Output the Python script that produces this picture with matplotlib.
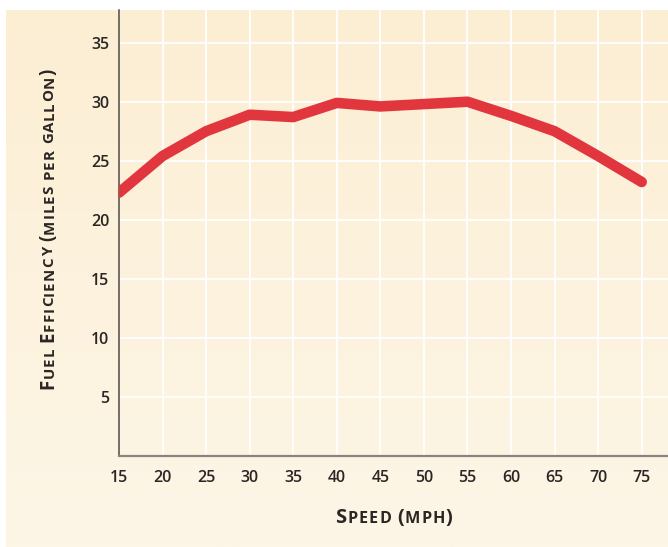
import numpy as np
import matplotlib
matplotlib.use("Agg")
import matplotlib.pyplot as plt
from matplotlib.transforms import IdentityTransform
from matplotlib.font_manager import FontProperties

# data
speed_mph = [15, 20, 25, 30, 35, 40, 45, 50, 55, 60, 65, 70, 75]
fuel_mpg = [22.3, 25.4, 27.5, 28.9, 28.7, 29.9, 29.6, 29.8, 30.0, 28.8, 27.5, 25.4, 23.2]
x_ticks = [15, 20, 25, 30, 35, 40, 45, 50, 55, 60, 65, 70, 75]
y_ticks = [5, 10, 15, 20, 25, 30, 35]
x_label = "Speed (mph)"
y_label = "Fuel Efficiency (miles per gallon)"

W, H = 668, 547
FONT = "Open Sans"
TEXT_COLOR = "#2b2623"

fig = plt.figure(figsize=(W / 100, H / 100), dpi=100)
fig.patch.set_facecolor("white")

# cream panel with a soft vertical gradient
bg = fig.add_axes([0, 0, 1, 1], zorder=0)
bg.set_axis_off()
top_c = np.array([252, 238, 211]) / 255
bot_c = np.array([253, 246, 231]) / 255
t = np.linspace(0, 1, 256)[:, None]
grad = (top_c[None, :] * (1 - t) + bot_c[None, :] * t)[:, None, :]
x0, y1 = 6 / W, 1 - 10 / H
bg.imshow(grad, extent=[x0, 1, 0, y1], aspect="auto", origin="upper")
bg.set_xlim(0, 1)
bg.set_ylim(0, 1)

# plot area
left, bottom = 119 / W, 91 / H
ax = fig.add_axes([left, bottom, 1 - left, (537 - 91) / H], zorder=1)
ax.patch.set_alpha(0)
ax.set_xlim(15, 15 + 549 / 8.712)
ax.set_ylim(0, 446.4 / 11.82)

ax.set_xticks(x_ticks)
ax.set_yticks(y_ticks)
ax.grid(True, color="white", lw=1.3, zorder=0)
ax.set_axisbelow(True)
ax.tick_params(length=0, labelsize=11.5, colors=TEXT_COLOR)
ax.tick_params(axis="x", pad=10)
ax.tick_params(axis="y", pad=7)
for lab in ax.get_xticklabels() + ax.get_yticklabels():
    lab.set_fontfamily(FONT)
    lab.set_fontweight("semibold")

for side in ["top", "right"]:
    ax.spines[side].set_visible(False)
ax.spines["left"].set_color("#4e4843")
ax.spines["left"].set_linewidth(1.1)
ax.spines["bottom"].set_color("#8a837c")
ax.spines["bottom"].set_linewidth(1.6)

ax.plot(speed_mph, fuel_mpg, color="#e2363f", lw=7.6,
        solid_capstyle="round", solid_joinstyle="round", zorder=3)


def small_caps(cx, cy, text, size, vertical=False, track=1.5, ratio=0.8):
    """Small caps with letter spacing, centred on (cx, cy) pixel coords (baseline)."""
    renderer = fig.canvas.get_renderer()

    def ink(s, sz):
        prop = FontProperties(family=FONT, weight="bold", size=sz)
        return renderer.get_text_width_height_descent(s, prop, ismath=False)[0]

    chars = []
    for ch in text:
        sz = size * ratio if ch.islower() else size
        c = ch.upper()
        adv = ink("H" + c + "H", sz) - ink("HH", sz)
        if c == " ":
            adv *= 0.8
        chars.append((c, sz, adv))

    total = sum(a for _, _, a in chars) + track * (len(chars) - 1)
    pos = (cy if vertical else cx) - total / 2
    for c, sz, adv in chars:
        if c != " ":
            px, py = (cx, pos) if vertical else (pos, cy)
            fig.text(px, py, c, transform=IdentityTransform(), fontsize=sz,
                     fontfamily=FONT, fontweight="bold", color=TEXT_COLOR,
                     rotation=90 if vertical else 0, rotation_mode="anchor",
                     ha="left", va="baseline", zorder=5)
        pos += adv + track


small_caps(394, H - 522.7, x_label, 14.5, track=1.0)
small_caps(53.5, H - 229, y_label, 13.5, vertical=True, track=1.0)

fig.savefig("out.png", dpi=100)
